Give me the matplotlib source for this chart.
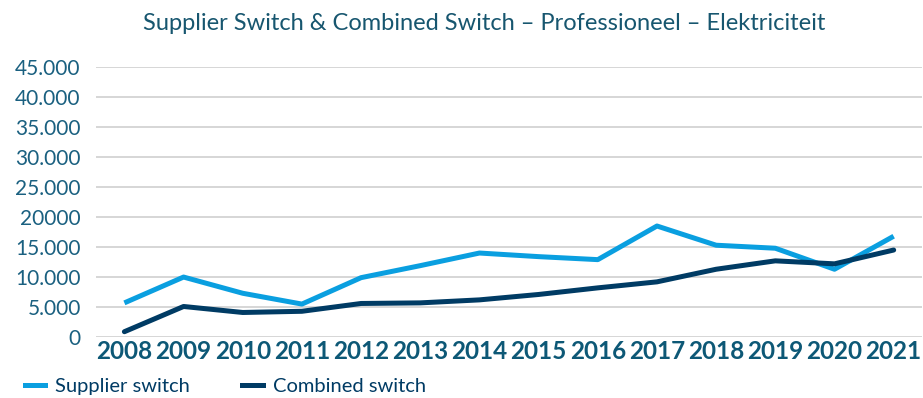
import matplotlib
matplotlib.use("Agg")
from matplotlib import pyplot as plt
from matplotlib.lines import Line2D

years = ["2008", "2009", "2010", "2011", "2012", "2013", "2014",
         "2015", "2016", "2017", "2018", "2019", "2020", "2021"]
supplier_switch = [5700, 10000, 7300, 5500, 9900, 11900, 14000,
                   13400, 12900, 18500, 15300, 14800, 11300, 16800]
combined_switch = [900, 5100, 4100, 4300, 5600, 5700, 6200,
                   7100, 8200, 9200, 11300, 12700, 12200, 14500]
y_ticks = [0, 5000, 10000, 15000, 20000, 25000, 30000, 35000, 40000, 45000]
y_labels = ["0", "5.000", "10.000", "15.000", "20000", "25.000",
            "30.000", "35.000", "40.000", "45.000"]

LIGHT = "#0a9fe0"
DARK = "#003b64"
TEXT = "#1a6080"

plt.rcParams['font.family'] = ['Lato', 'DejaVu Sans']

fig = plt.figure(figsize=(9.23, 3.98), dpi=100)
ax = fig.add_axes([0.104, 0.153, 0.895, 0.679])

x = range(len(years))
ax.plot(x, supplier_switch, color=LIGHT, lw=3.6, solid_capstyle='butt')
ax.plot(x, combined_switch, color=DARK, lw=3.6, solid_capstyle='round')

ax.set_xlim(-0.48, len(years) - 0.52)
ax.set_ylim(0, 45000)
ax.set_yticks(y_ticks)
ax.set_yticklabels(y_labels)
ax.set_xticks(list(x))
ax.set_xticklabels(years, fontweight='bold')
ax.grid(axis='y', color='#d0d0d0', lw=1.2)
ax.set_axisbelow(True)
for s in ax.spines.values():
    s.set_visible(False)
ax.tick_params(axis='y', length=0, pad=11, labelsize=15, labelcolor=TEXT)
ax.tick_params(axis='x', length=0, pad=2, labelsize=17.5, labelcolor="#0d5876")

fig.text(484 / 923, 1 - 24 / 398, "Supplier Switch & Combined Switch \u2013 Professioneel \u2013 Elektriciteit",
         ha='center', va='center', fontsize=17, color="#17566f")

handles = [Line2D([], [], color=LIGHT, lw=3.6), Line2D([], [], color=DARK, lw=3.6)]
fig.legend(handles, ["Supplier switch", "Combined switch"], loc='center left',
           bbox_to_anchor=(25 / 923, 1 - 386 / 398), ncol=2, frameon=False,
           borderpad=0, borderaxespad=0,
           fontsize=14.5, labelcolor=DARK, handlelength=1.0, handletextpad=0.5,
           columnspacing=2.6)

fig.savefig("out.png", dpi=100)
